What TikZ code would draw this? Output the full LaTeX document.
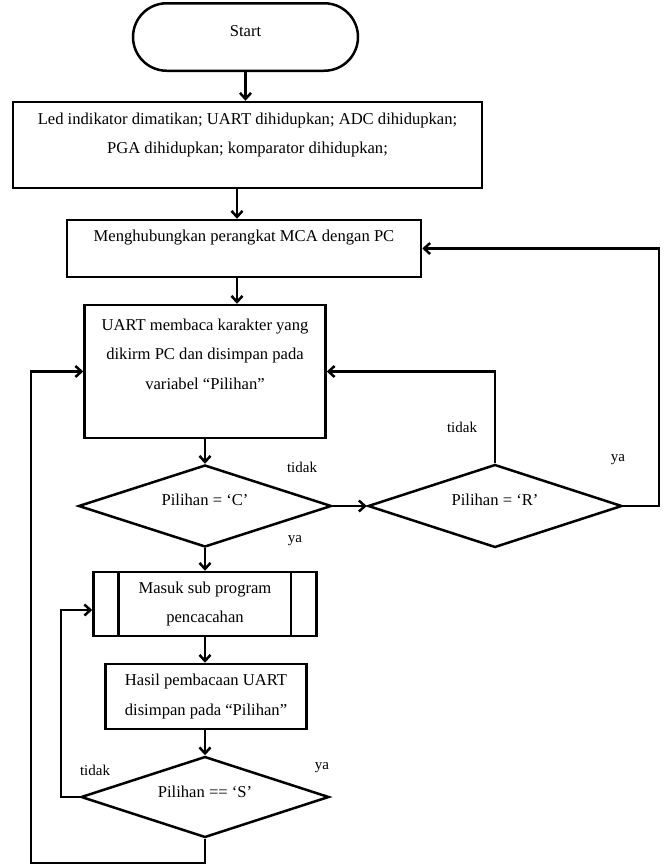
\documentclass[tikz,border=0pt]{standalone}
\usepackage{fontspec}
\setmainfont{Liberation Serif}
\usetikzlibrary{arrows.meta, shapes.geometric, shapes.misc}

\begin{document}
\begin{tikzpicture}[x=1pt, y=-1pt, line width=2.5pt,
    font=\fontsize{16.6}{29.5}\selectfont,
    every label/.style={align=center},
    box/.style={draw, rectangle, inner sep=0pt},
    term/.style={draw, rounded rectangle, inner sep=0pt},
    dec/.style={draw, diamond, inner sep=0pt},
    lbl/.style={font=\fontsize{15}{18}\selectfont, inner sep=0pt},
    arr/.style={-{Straight Barb[length=6pt, width=11pt]}}]
    \useasboundingbox (0,0) rectangle (667,865);
    \node[term, minimum width=225pt, minimum height=67.5pt,
      label={[yshift=6pt]center:Start}] (start) at (245.5,37) {};
    \node[box, minimum width=469pt, minimum height=86pt,
      label={[yshift=10pt]center:Led indikator dimatikan; UART dihidupkan; ADC dihidupkan;\\PGA dihidupkan; komparator dihidupkan;}] (init) at (247.5,145) {};
    \node[box, minimum width=354pt, minimum height=57pt,
      label={[yshift=10.5pt]center:Menghubungkan perangkat MCA dengan PC}] (link) at (244,248.5) {};
    \node[box, minimum width=241pt, minimum height=133pt,
      label={[yshift=17.5pt]center:UART membaca karakter yang\\dikirm PC dan disimpan pada\\variabel “Pilihan”}] (read) at (205,371.5) {};
    \node[dec, minimum width=253pt, minimum height=82pt,
      label={[yshift=6pt]center:Pilihan = ‘C’}] (isC) at (205,506) {};
    \node[dec, minimum width=254pt, minimum height=83pt,
      label={[yshift=6pt]center:Pilihan = ‘R’}] (isR) at (495,506) {};
    \node[box, minimum width=223pt, minimum height=64pt,
      label={center:Masuk sub program\\pencacahan}] (count) at (205,604) {};
    \node[box, minimum width=201pt, minimum height=65pt,
      label={center:Hasil pembacaan UART\\disimpan pada “Pilihan”}] (save) at (206,696.5) {};
    \node[dec, minimum width=248pt, minimum height=81pt,
      label={[yshift=5pt]center:Pilihan == ‘S’}] (isS) at (205,797) {};
    % garis tepi sub program
    \draw ([xshift=26pt]count.north west) -- ([xshift=26pt]count.south west);
    \draw ([xshift=-27pt]count.north east) -- ([xshift=-27pt]count.south east);
    % alur utama
    \draw[arr] (start.south) -- (start.south |- init.north);
    \draw[arr] (init.south -| 237,0) -- (link.north -| 237,0);
    \draw[arr] (link.south -| 237,0) -- (read.north -| 237,0);
    \draw[arr] (read.south) -- (isC.north);
    \draw[arr] (isC.south) -- (count.north);
    \draw[arr] (count.south) -- (count.south |- save.north);
    \draw[arr] (save.south -| isS.north) -- (isS.north);
    \draw[arr] (isC.east) -- (isR.west);
    % umpan balik
    \draw[arr] (isR.north) |- (read.east);
    \draw[arr] (isR.east) -- (659,506) |- (link.east);
    \draw[arr] (isS.west) -- (61,797) |- ([yshift=-6pt]count.west);
    \draw[arr] (isS.south) |- (31,863) |- (read.west);
    % keterangan
    \node[lbl] (tC) at (302,467) {tidak};
    \node[lbl] (yC) at (295,541) {ya};
    \node[lbl] (tR) at (462,427) {tidak};
    \node[lbl] (yR) at (618,460) {ya};
    \node[lbl] (tS) at (95,770) {tidak};
    \node[lbl] (yS) at (322,768) {ya};
\end{tikzpicture}
\end{document}
